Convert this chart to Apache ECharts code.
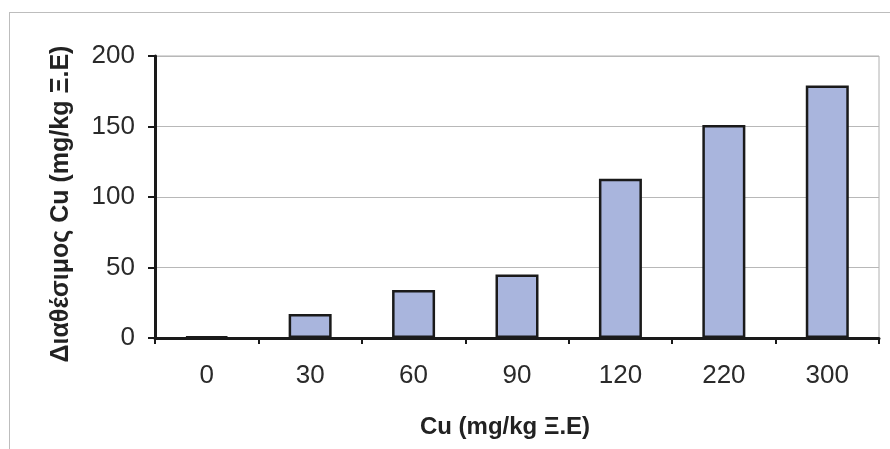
<!DOCTYPE html>
<html>
<head>
<meta charset="utf-8">
<script src="https://cdn.jsdelivr.net/npm/echarts@6/dist/echarts.min.js"></script>
<style>
html,body{margin:0;padding:0;background:#fff;}
#frame{position:absolute;left:9px;top:12px;width:881px;height:437px;border-left:1px solid #bdbdbd;border-top:1px solid #bdbdbd;}
#c{position:absolute;left:0;top:0;width:890px;height:449px;}
</style>
</head>
<body>
<div id="frame"></div>
<div id="c"></div>
<script>
var categories = ['0', '30', '60', '90', '120', '220', '300'];
var availableCu = [1, 17, 34, 45, 113, 151, 179];
var yTicks = {min: 0, max: 200, interval: 50};

var chart = echarts.init(document.getElementById('c'));
chart.setOption({
  animation: false,
  grid: {left: 155, right: 11, top: 56, bottom: 111, show: true, borderColor: '#b0b0b0', borderWidth: 1, backgroundColor: 'transparent'},
  xAxis: {
    type: 'category',
    data: categories,
    name: 'Cu (mg/kg Ξ.Ε)',
    nameLocation: 'middle',
    nameGap: 77,
    nameTextStyle: {fontFamily: 'Liberation Sans, Arial', fontWeight: 'bold', fontSize: 24, color: '#222', padding: [0, 24, 0, 0]},
    axisLine: {lineStyle: {color: '#1a1a1a', width: 3}},
    axisTick: {show: true, length: 6, lineStyle: {color: '#1a1a1a', width: 2}},
    axisLabel: {fontFamily: 'Liberation Sans, Arial', fontSize: 26, color: '#2a2a2a', margin: 25}
  },
  yAxis: {
    type: 'value',
    min: yTicks.min, max: yTicks.max, interval: yTicks.interval,
    name: 'Διαθέσιμος Cu (mg/kg Ξ.Ε)',
    nameLocation: 'middle',
    nameGap: 81,
    nameTextStyle: {fontFamily: 'Liberation Sans, Arial', fontWeight: 'bold', fontSize: 25, color: '#222', padding: [0, 14, 0, 0]},
    axisLine: {show: true, lineStyle: {color: '#1a1a1a', width: 3}},
    axisTick: {show: true, length: 7, lineStyle: {color: '#1a1a1a', width: 2}},
    axisLabel: {fontFamily: 'Liberation Sans, Arial', fontSize: 26, color: '#2a2a2a', margin: 20},
    splitLine: {lineStyle: {color: '#b8b8b8', width: 1}}
  },
  series: [{
    type: 'bar',
    data: availableCu,
    barWidth: 43,
    itemStyle: {color: '#a9b5dd', borderColor: '#1a1a1a', borderWidth: 2.5}
  }]
});
</script>
</body>
</html>
